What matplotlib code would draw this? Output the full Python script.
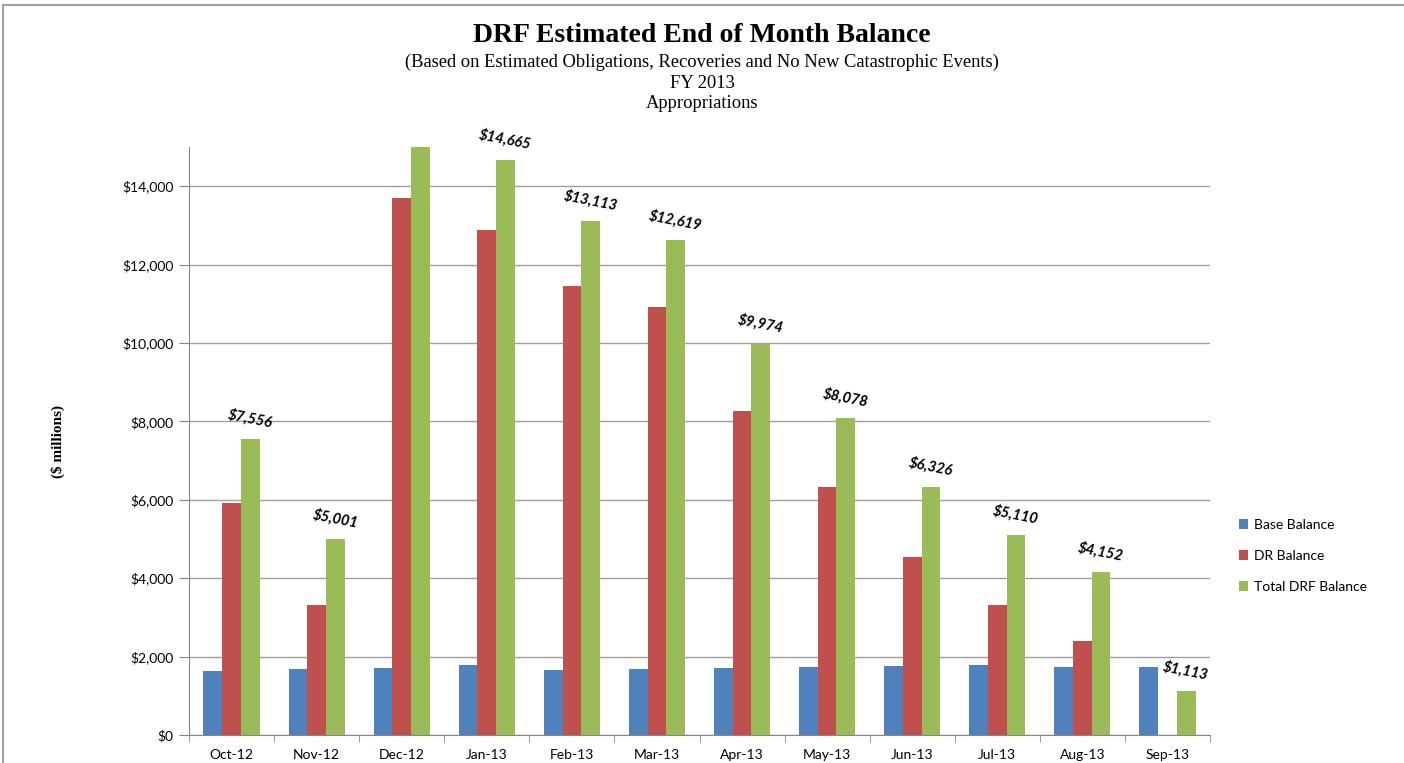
import numpy as np
import matplotlib
matplotlib.use("Agg")
import matplotlib.pyplot as plt
from matplotlib.lines import Line2D

months = ["Oct-12", "Nov-12", "Dec-12", "Jan-13", "Feb-13", "Mar-13",
          "Apr-13", "May-13", "Jun-13", "Jul-13", "Aug-13", "Sep-13"]
base_balance = [1640, 1685, 1715, 1790, 1655, 1685, 1705, 1745, 1760, 1790, 1730, 1745]
dr_balance = [5920, 3315, 13700, 12875, 11455, 10925, 8265, 6330, 4545, 3315, 2410, -40]
total_balance = [7556, 5001, 15415, 14665, 13113, 12619, 9974, 8078, 6326, 5110, 4152, 1113]
total_labels = ["$7,556", "$5,001", "", "$14,665", "$13,113", "$12,619",
                "$9,974", "$8,078", "$6,326", "$5,110", "$4,152", "$1,113"]

blue = "#4F81BD"
red = "#C0504D"
green = "#9BBB59"
serif = "Liberation Serif"
sans = "Lato"

fig = plt.figure(figsize=(14.04, 7.63), dpi=100)
ax = fig.add_axes([189 / 1404, 1 - 735 / 763, (1210 - 189) / 1404, (735 - 147) / 763])

x = np.arange(len(months))
w = 0.22
ax.bar(x - w, base_balance, w, color=blue, label="Base Balance", zorder=3)
ax.bar(x, dr_balance, w, color=red, label="DR Balance", zorder=3)
ax.bar(x + w, total_balance, w, color=green, label="Total DRF Balance", zorder=3)

for xi, v, lab in zip(x, total_balance, total_labels):
    if lab:
        ax.annotate(lab, (xi + w, v), xytext=(0, 14.5), textcoords="offset points",
                    ha="center", va="center", rotation=-11, fontsize=10.5,
                    fontweight="bold", fontstyle="italic", family=sans,
                    annotation_clip=False)

ax.set_xlim(-0.5, len(months) - 0.5)
ax.set_ylim(0, 15000)
ax.set_yticks(np.arange(0, 15000, 2000))
ax.set_yticklabels(["${:,}".format(v) for v in range(0, 15000, 2000)],
                   family=sans, fontsize=10)
ax.set_xticks(x)
ax.set_xticklabels(months, family=sans, fontsize=10)
ax.set_xticks(np.arange(-0.5, len(months), 1), minor=True)
ax.tick_params(axis="x", which="major", length=0, pad=10)
ax.tick_params(axis="x", which="minor", length=5, color="#868686")
ax.tick_params(axis="y", length=7, color="#868686", pad=4)

ax.grid(axis="y", color="#a0a0a0", linewidth=1, zorder=0)
ax.set_axisbelow(True)
for s in ["top", "right"]:
    ax.spines[s].set_visible(False)
for s in ["left", "bottom"]:
    ax.spines[s].set_color("#868686")

ax.set_ylabel("($ millions)", family=serif, fontweight="bold", fontsize=11, labelpad=41)

fig.text(0.5, 1 - 35 / 763, "DRF Estimated End of Month Balance", ha="center", va="center",
         family=serif, fontweight="bold", fontsize=20)
fig.text(0.5, 1 - 62 / 763, "(Based on Estimated Obligations, Recoveries and No New Catastrophic Events)",
         ha="center", va="center", family=serif, fontsize=13.3)
fig.text(0.5, 1 - 83 / 763, "FY 2013", ha="center", va="center", family=serif, fontsize=13.3)
fig.text(0.5, 1 - 104 / 763, "Appropriations", ha="center", va="center", family=serif, fontsize=13.3)

handles, labels = ax.get_legend_handles_labels()
leg = fig.legend(handles, labels, loc="center left", bbox_to_anchor=(1226 / 1404, 1 - 556 / 763),
                 frameon=False, prop={"family": sans, "size": 10}, handlelength=0.7,
                 handleheight=0.7, handletextpad=0.4, labelspacing=1.38)

# chart frame edges
fig.add_artist(Line2D([3 / 1404, 1], [1 - 5 / 763, 1 - 5 / 763], color="#a0a0a0", linewidth=1.5))
fig.add_artist(Line2D([3 / 1404, 3 / 1404], [0, 1 - 5 / 763], color="#a0a0a0", linewidth=1.5))

fig.savefig("out.png", dpi=100)
